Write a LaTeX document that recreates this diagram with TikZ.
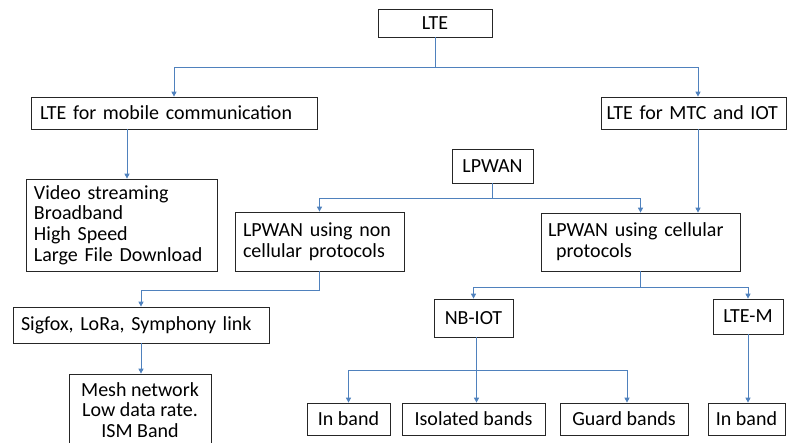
\documentclass[tikz,border=0pt]{standalone}
\usepackage{fontspec}
\setmainfont{Carlito}
\usetikzlibrary{arrows.meta}
\definecolor{linkblue}{RGB}{79,129,189}
\tikzset{ blk/.style = {rectangle, draw=black!85, line width=0.7pt, inner sep=0pt, font=\fontsize{20}{20.7}\selectfont} }
\tikzset{ lblk/.style = {blk, align=left} }
\tikzset{ link/.style = {draw=linkblue, line width=0.9pt, -{Triangle[width=5pt,length=5pt]}} }

\begin{document}
\begin{tikzpicture}[x=1pt, y=-1pt]
    \useasboundingbox (0,0) rectangle (788,443);
    % top level
    \node[blk, minimum width=114pt, minimum height=28pt] (lte) at (435,23) {LTE};
    \node[lblk, minimum width=286pt, minimum height=32pt, text width=268pt] (mob) at (174,113) {LTE for mobile communication};
    \node[lblk, minimum width=185pt, minimum height=32pt, text width=174pt] (mtc) at (693.5,113) {LTE for MTC and IOT};
    \node[lblk, minimum width=191pt, minimum height=92pt, text width=175pt] (video) at (121.5,225) {Video streaming\\Broadband\\High Speed\\Large File Download};
    % LPWAN branch
    \node[blk, minimum width=81pt, minimum height=34pt] (lpwan) at (492.5,166) {LPWAN};
    \node[lblk, minimum width=169pt, minimum height=59pt, text width=153pt] (noncell) at (319.5,241.5) {LPWAN using non\\cellular protocols};
    \node[lblk, minimum width=199pt, minimum height=58pt, text width=185pt] (cell) at (640.5,242) {LPWAN using cellular\\\hspace{0.4em}protocols};
    \node[lblk, minimum width=256pt, minimum height=36pt, text width=240pt] (sig) at (141,325) {Sigfox, LoRa, Symphony link};
    \node[blk, align=center, minimum width=142pt, minimum height=72pt] (mesh) at (140,410) {Mesh network\\Low data rate.\\ISM Band};
    \node[blk, minimum width=79pt, minimum height=38pt] (nbiot) at (473.5,318) {NB-IOT};
    \node[blk, minimum width=70pt, minimum height=35pt] (ltem) at (748,316.5) {LTE-M};
    % bands
    \node[blk, minimum width=83pt, minimum height=32pt] (inbandA) at (348.5,419) {In band};
    \node[blk, minimum width=143pt, minimum height=32pt] (isolated) at (473.5,419) {Isolated bands};
    \node[blk, minimum width=128pt, minimum height=32pt] (guard) at (624,419) {Guard bands};
    \node[blk, minimum width=77pt, minimum height=32pt] (inbandB) at (746.5,419) {In band};

    \draw[link] (lte.south) -- ++(0,30) -| (mob.north);
    \draw[link] (lte.south) -- ++(0,30) -| ([xshift=4.5pt]mtc.north);
    \draw[link] ([xshift=-47pt]mob.south) -- ([xshift=-47pt]mob.south |- video.north);
    \draw[link] ([xshift=4.5pt]mtc.south) -- ([xshift=4.5pt]mtc.south |- cell.north);
    \draw[link] (lpwan.south) -- ++(0,15) -| (noncell.north);
    \draw[link] (lpwan.south) -- ++(0,15) -| (cell.north);
    \draw[link] (noncell.south) -- ++(0,19) -| (sig.north);
    \draw[link] (sig.south) -- (sig.south |- mesh.north);
    \draw[link] (cell.south) -- ++(0,16) -| (nbiot.north);
    \draw[link] (cell.south) -- ++(0,16) -| (ltem.north);
    \draw[link] ([xshift=3pt]nbiot.south) -- ++(0,33) -| (inbandA.north);
    \draw[link] ([xshift=3pt]nbiot.south) -- ([xshift=3pt]nbiot.south |- isolated.north);
    \draw[link] ([xshift=3pt]nbiot.south) -- ++(0,33) -| ([xshift=3pt]guard.north);
    \draw[link] (ltem.south) -- (ltem.south |- inbandB.north);
\end{tikzpicture}
\end{document}
